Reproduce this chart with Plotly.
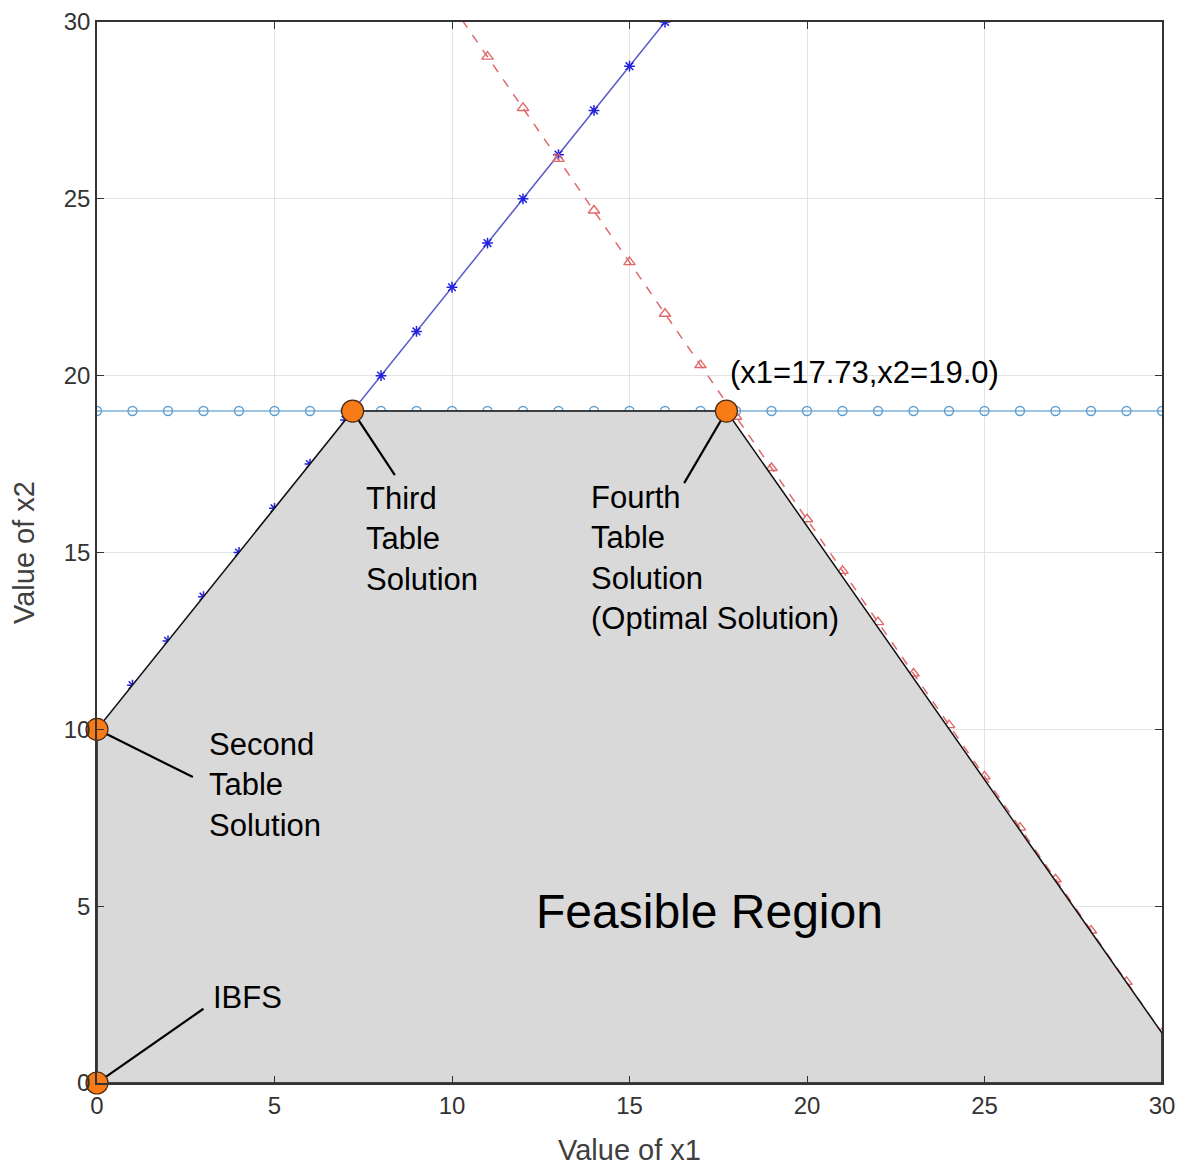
import plotly.graph_objects as go

# ---- data ----
blue_x = list(range(0, 17))
blue_y = [10, 11.25, 12.5, 13.75, 15, 16.25, 17.5, 18.75, 20, 21.25, 22.5,
          23.75, 25, 26.25, 27.5, 28.75, 30]

red_x = list(range(10, 31))
red_y = [30.47, 29.02, 27.57, 26.13, 24.67, 23.21, 21.75, 20.30, 18.84, 17.39,
         15.94, 14.48, 13.03, 11.58, 10.12, 8.67, 7.22, 5.76, 4.31, 2.86, 1.41]

cyan_x = list(range(0, 31))
cyan_y = [19] * 31

feasible_x = [0, 0, 7.2, 17.73, 30, 30, 0]
feasible_y = [0, 10, 19, 19, 1.41, 0, 0]

sol_x = [0, 0, 7.2, 17.73]
sol_y = [0, 10, 19, 19]

# leader lines: (from point, to text)
leaders = [
    ((0, 0), (3.0, 2.1)),
    ((0, 10), (2.7, 8.65)),
    ((7.2, 19), (8.39, 17.19)),
    ((17.73, 19), (16.54, 16.96)),
]

labels = [
    ("IBFS", 3.22, 2.43),
    ("Second<br>Table<br>Solution", 3.1, 8.43),
    ("Third<br>Table<br>Solution", 7.52, 15.38),
    ("Fourth<br>Table<br>Solution<br>(Optimal Solution)", 13.86, 14.84),
    ("(x1=17.73,x2=19.0)", 17.78, 20.1),
]

FONT = "Liberation Sans, Arial, Helvetica, sans-serif"

fig = go.Figure()

fig.add_trace(go.Scatter(
    x=cyan_x, y=cyan_y, mode="lines+markers",
    line=dict(color="#7db3dc", width=1.5),
    marker=dict(symbol="circle-open", size=9, color="#5f9fd0", line=dict(width=1.4)),
    hoverinfo="skip"))

fig.add_trace(go.Scatter(
    x=blue_x, y=blue_y, mode="lines+markers",
    line=dict(color="#5a5acb", width=1.5),
    marker=dict(symbol="asterisk-open", size=9, color="#2222dd", line=dict(width=1.5, color="#2222dd")),
    hoverinfo="skip"))

fig.add_trace(go.Scatter(
    x=red_x, y=red_y, mode="lines+markers",
    line=dict(color="#e06a6a", width=1.5, dash="dash"),
    marker=dict(symbol="triangle-up-open", size=10, color="#e06a6a", line=dict(width=1.4)),
    hoverinfo="skip"))

fig.add_trace(go.Scatter(
    x=feasible_x, y=feasible_y, mode="lines", fill="toself",
    fillcolor="#d9d9d9", line=dict(color="#111111", width=1.5),
    hoverinfo="skip"))

for (p, q) in leaders:
    fig.add_trace(go.Scatter(
        x=[p[0], q[0]], y=[p[1], q[1]], mode="lines",
        line=dict(color="#000000", width=2.2), hoverinfo="skip"))

fig.add_trace(go.Scatter(
    x=sol_x, y=sol_y, mode="markers",
    marker=dict(size=22, color="#f77b16", line=dict(color="#4a2a10", width=1.2)),
    cliponaxis=False, hoverinfo="skip"))

annotations = []
for (t, x, y) in labels:
    annotations.append(dict(
        text=t, x=x, y=y, xref="x", yref="y", showarrow=False,
        xanchor="left", yanchor="middle", align="left",
        font=dict(family=FONT, size=31, color="#000000")))

annotations.append(dict(
    text="Feasible Region", x=17.24, y=4.86, xref="x", yref="y",
    showarrow=False, xanchor="center", yanchor="middle",
    font=dict(family=FONT, size=48, color="#000000")))

axis_common = dict(
    range=[0, 30], tickvals=[0, 5, 10, 15, 20, 25, 30],
    showgrid=True, gridcolor="#e3e3e3", gridwidth=1,
    zeroline=False, showline=True, linecolor="#333333", linewidth=1.5,
    mirror="ticks", ticks="inside", ticklen=7, tickcolor="#333333",
    tickfont=dict(family=FONT, size=24, color="#333333"),
    automargin=False, fixedrange=True,
)

# the page body has an 8px default margin, so the figure is offset by 8px
fig.update_layout(
    width=1177, height=1159,
    margin=dict(l=89, r=23, t=14, b=84),
    paper_bgcolor="white", plot_bgcolor="white",
    showlegend=False,
    xaxis=dict(axis_common, title=dict(text="Value of x1", standoff=22,
               font=dict(family=FONT, size=29, color="#404040"))),
    yaxis=dict(axis_common, title=dict(text="Value of x2", standoff=26,
               font=dict(family=FONT, size=29, color="#404040"))),
    annotations=annotations,
)

fig.write_html("out.html")
